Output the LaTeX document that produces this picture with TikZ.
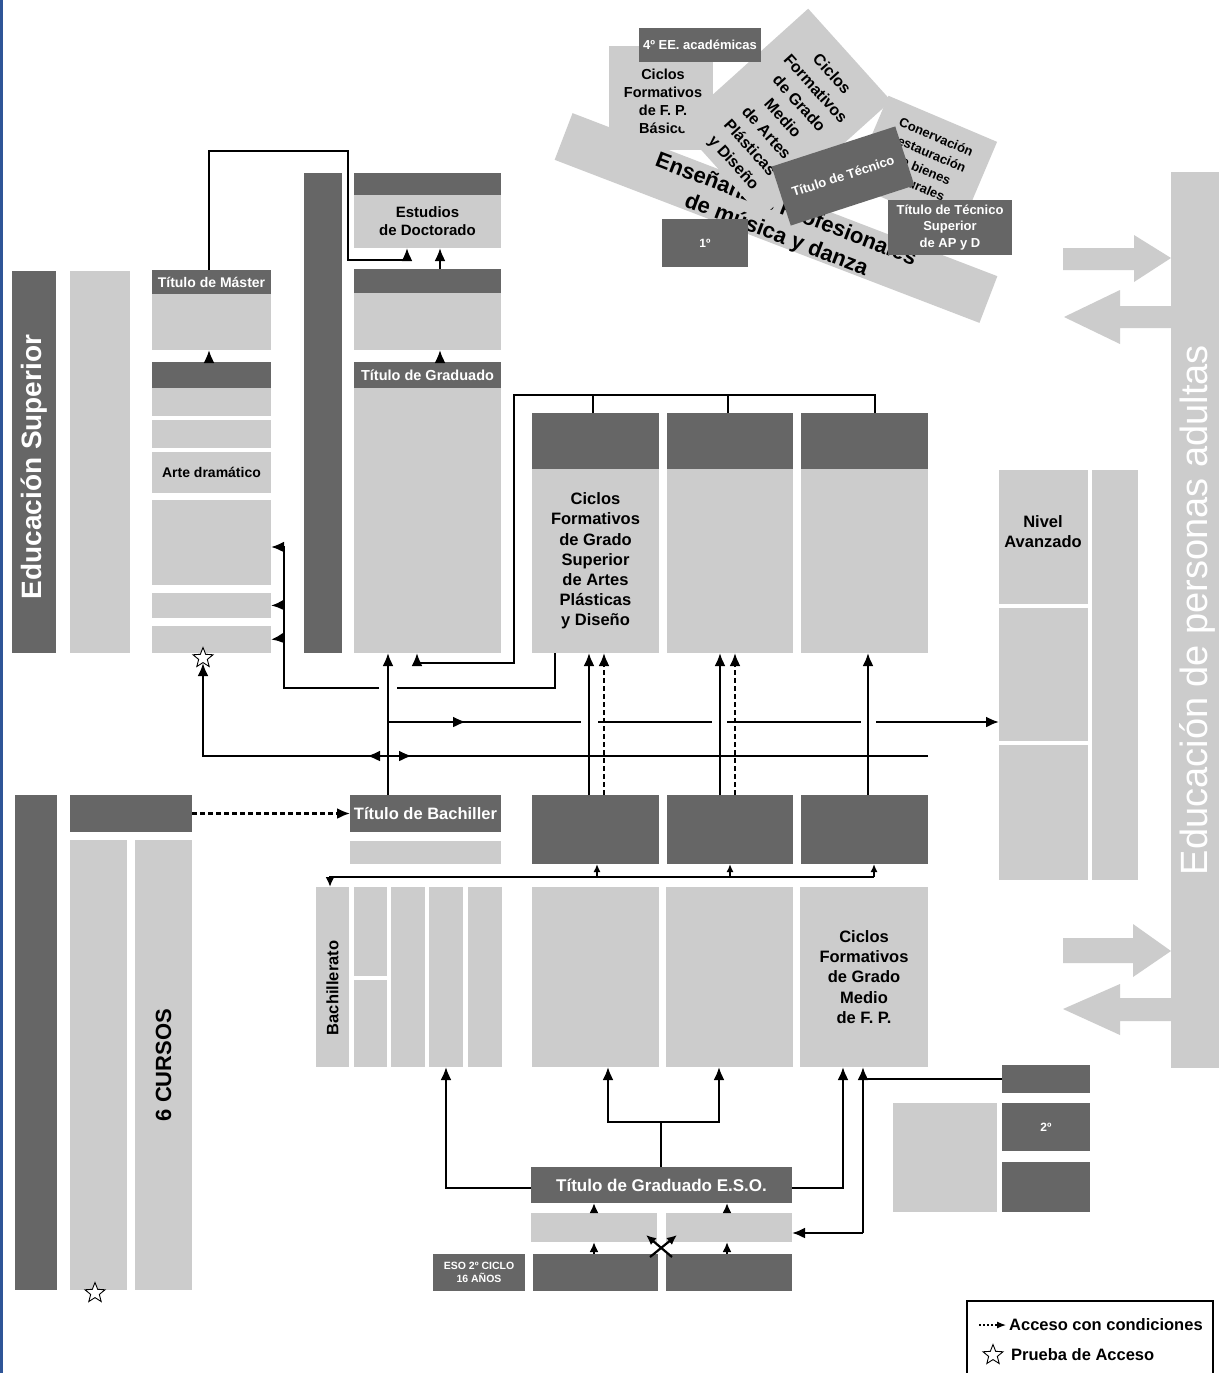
\documentclass[tikz,border=0pt]{standalone}
\usepackage{fontspec}
\setmainfont{Liberation Sans}
\usetikzlibrary{arrows.meta,shapes.geometric}
\definecolor{dk}{HTML}{666666}
\definecolor{lt}{HTML}{CCCCCC}
\definecolor{bord}{HTML}{2F5597}
\newcommand\fs[2]{\fontsize{#1pt}{#2pt}\selectfont}
\newcommand\bx[7]{\node[#1, minimum width={#5pt-#3pt}, minimum height={#6pt-#4pt}] (#2) at (#3,#4) {#7};}
\tikzset{
  box/.style={inner sep=0pt, outer sep=0pt, anchor=north west, align=center, font=\bfseries},
  dkb/.style={box, fill=dk, text=white},
  ltb/.style={box, fill=lt, text=black},
  rbox/.style={inner sep=0pt, outer sep=0pt, anchor=center, align=center, font=\bfseries},
  arr/.style={line width=2.2pt, -{Latex[length=13pt,width=11pt]}},
  sarr/.style={line width=2.2pt, -{Latex[length=10pt,width=9pt]}},
  tarr/.style={line width=2.2pt, -{Latex[length=8pt,width=7pt]}},
  ln/.style={line width=2.2pt},
  dsh/.style={dash pattern=on 5pt off 3pt},
  strn/.style={star, star points=5, star point ratio=2.3, draw=black, fill=white, line width=0.9pt, minimum size=21pt, inner sep=0pt},
  bigarrow/.style={fill=lt},
}
\begin{document}
\begin{tikzpicture}[x=1pt,y=-1pt]
\fill[white] (0,0) rectangle (1219,1373);
\useasboundingbox (0,0) rectangle (1219,1373);
\fill[bord] (0,0) rectangle (3,1373);

% ---------- top cluster ----------
\bx{ltb}{fpb}{609}{46}{713}{150}{}
\node[font=\fs{14.5}{18}\bfseries, align=center] (fpbt) at (663,101) {Ciclos\\Formativos\\de F. P.\\Básico};
\node[rbox, fill=lt, rotate=-21, minimum width=455pt, minimum height=50pt] (band) at (776,218) {};
\node[rotate=-21, font=\fs{22}{27}\bfseries, align=center] (bandt) at (781,223) {Enseñanzas Profesionales\\de música y danza};
\node[rbox, fill=lt, rotate=-48, minimum width=124pt, minimum height=174pt] (cfm) at (785,113) {};
\node[rotate=-48, font=\fs{16}{22}\bfseries, align=center] (cfmt) at (782,119) {Ciclos\\Formativos\\de Grado\\Medio\\de Artes\\Plásticas\\y Diseño};
\bx{dkb, font=\fs{13}{15}\bfseries}{ee4}{639}{28}{761}{62}{4º EE. académicas}
\node[rbox, fill=lt, rotate=-23, minimum width=118pt, minimum height=96pt] (cons) at (924,163) {};
\node[rotate=-23, font=\fs{13}{17.5}\bfseries, align=center] (const) at (926,161) {Conervación\\restauración\\de bienes\\culturales};
\node[rbox, fill=dk, text=white, rotate=18, minimum width=130pt, minimum height=62pt, font=\fs{13}{15}\bfseries] (tec) at (843,176) {Título de Técnico};
\bx{dkb, font=\fs{13}{16.5}\bfseries}{tecs}{888}{200}{1012}{255}{Título de Técnico\\Superior\\de AP y D}
\bx{dkb, font=\fs{12}{14}\bfseries}{uno}{662}{219}{748}{267}{1º}

% ---------- Educacion superior ----------
\bx{dkb}{es}{12}{271}{56}{653}{}
\node[rotate=90, text=white, font=\fs{28}{32}\bfseries] (est) at (34,467) {Educación Superior};
\bx{ltb}{es2}{70}{271}{130}{653}{}
\bx{dkb, font=\fs{14}{16}\bfseries}{ma1}{152}{270}{271}{294}{Título de Máster}
\bx{ltb}{ma2}{152}{294}{271}{350}{}
\bx{dkb}{ma3}{152}{362}{271}{388}{}
\bx{ltb}{ma4}{152}{388}{271}{416}{}
\bx{ltb}{ma5}{152}{420}{271}{448}{}
\bx{ltb, font=\fs{14}{16}\bfseries}{ma6}{152}{452}{271}{493}{Arte dramático}
\bx{ltb}{ma7}{152}{500}{271}{585}{}
\bx{ltb}{ma8}{152}{593}{271}{618}{}
\bx{ltb}{ma9}{152}{626}{271}{653}{}

\bx{dkb}{gv}{304}{173}{342}{653}{}
\bx{dkb}{doc1}{354}{173}{501}{195}{}
\bx{ltb, font=\fs{15}{18}\bfseries}{doc2}{354}{195}{501}{248}{Estudios\\de Doctorado}
\bx{dkb}{gr1}{354}{269}{501}{293}{}
\bx{ltb}{gr2}{354}{293}{501}{350}{}
\bx{dkb, font=\fs{14.5}{17}\bfseries}{gr3}{354}{362}{501}{388}{Título de Graduado}
\bx{ltb}{gr4}{354}{388}{501}{653}{}

% ---------- CF grado superior ----------
\bx{dkb}{cfa1}{532}{413}{659}{469}{}
\bx{dkb}{cfa2}{667}{413}{793}{469}{}
\bx{dkb}{cfa3}{801}{413}{928}{469}{}
\bx{ltb, font=\fs{16.5}{20.2}\bfseries}{cfb1}{532}{469}{659}{653}{Ciclos\\Formativos\\de Grado\\Superior\\de Artes\\Plásticas\\y Diseño}
\bx{ltb}{cfb2}{667}{469}{793}{653}{}
\bx{ltb}{cfb3}{801}{469}{928}{653}{}

% ---------- adults ----------
\bx{ltb}{na1}{999}{470}{1088}{604}{}
\node[font=\fs{16.5}{20}\bfseries, align=center] (na1t) at (1043,532) {Nivel\\Avanzado};
\bx{ltb}{na2}{999}{608}{1088}{741}{}
\bx{ltb}{na3}{999}{745}{1088}{880}{}
\bx{ltb}{na4}{1092}{470}{1138}{880}{}
\bx{ltb}{epa}{1171}{172}{1219}{1068}{}
\node[rotate=90, text=white, font=\fs{38}{44}] (epat) at (1197,610) {Educación de personas adultas};
\fill[bigarrow] (1063,248) -- (1134,248) -- (1134,235) -- (1171,258) -- (1134,282) -- (1134,270) -- (1063,270) -- cycle;
\fill[bigarrow] (1171,306) -- (1120,306) -- (1120,290) -- (1064,317) -- (1120,344) -- (1120,328) -- (1171,328) -- cycle;
\fill[bigarrow] (1063,938) -- (1133,938) -- (1133,924) -- (1171,951) -- (1133,977) -- (1133,963) -- (1063,963) -- cycle;
\fill[bigarrow] (1171,998) -- (1120,998) -- (1120,984) -- (1063,1009) -- (1120,1035) -- (1120,1021) -- (1171,1021) -- cycle;

% ---------- middle ----------
\bx{dkb, font=\fs{16.5}{19}\bfseries}{tb1}{350}{795}{501}{832}{Título de Bachiller}
\bx{ltb}{tb2}{350}{841}{501}{864}{}
\bx{dkb}{md1}{532}{795}{659}{864}{}
\bx{dkb}{md2}{667}{795}{793}{864}{}
\bx{dkb}{md3}{801}{795}{928}{864}{}

\bx{dkb}{bl1}{15}{795}{57}{1290}{}
\bx{dkb}{bl2}{70}{795}{192}{832}{}
\bx{ltb}{bl3}{70}{840}{127}{1290}{}
\bx{ltb}{bl4}{135}{840}{192}{1290}{}
\node[rotate=90, font=\fs{22}{26}\bfseries] (bl4t) at (bl4.center) {6 CURSOS};

\bx{ltb}{ba1}{316}{887}{349}{1067}{}
\node[rotate=90, font=\fs{16.5}{20}\bfseries] (ba1t) at (332.5,988) {Bachillerato};
\bx{ltb}{ba2}{354}{887}{387}{976}{}
\bx{ltb}{ba3}{354}{980}{387}{1067}{}
\bx{ltb}{ba4}{391}{887}{425}{1067}{}
\bx{ltb}{ba5}{429}{887}{463}{1067}{}
\bx{ltb}{ba6}{468}{887}{502}{1067}{}
\bx{ltb}{gm1}{532}{887}{659}{1067}{}
\bx{ltb}{gm2}{666}{887}{793}{1067}{}
\bx{ltb, font=\fs{16.5}{20.2}\bfseries}{gm3}{800}{887}{928}{1067}{Ciclos\\Formativos\\de Grado\\Medio\\de F. P.}

% ---------- ESO ----------
\bx{dkb, font=\fs{17}{19}\bfseries}{teso}{531}{1167}{792}{1203}{Título de Graduado E.S.O.}
\bx{ltb}{el1}{531}{1213}{657}{1242}{}
\bx{ltb}{el2}{666}{1213}{792}{1242}{}
\bx{dkb}{ed1}{533}{1254}{658}{1291}{}
\bx{dkb}{ed2}{666}{1254}{792}{1291}{}
\bx{dkb, font=\fs{10.5}{13}\bfseries}{eso}{433}{1254}{525}{1291}{ESO 2º CICLO\\16 AÑOS}

\bx{dkb}{r1}{1002}{1065}{1090}{1093}{}
\bx{ltb}{r2}{893}{1103}{997}{1212}{}
\bx{dkb, font=\fs{12}{14}\bfseries}{r3}{1002}{1103}{1090}{1151}{2º}
\bx{dkb}{r4}{1002}{1162}{1090}{1212}{}

% ---------- stars ----------
\node[strn] (st1) at (203,658) {};
\node[strn] (st2) at (95,1293) {};

% ---------- connectors ----------
\draw[arr] (ma1.north -| 209,0) -- (209,151) -- (348,151) -- (348,260) -- (407,260) -- (doc2.south -| 407,0);
\draw[arr] (gr1.north -| 440,0) -- (doc2.south -| 440,0);
\draw[arr] (gr3.north -| 440,0) -- (gr2.south -| 440,0);
\draw[arr] (ma3.north -| 209,0) -- (ma2.south -| 209,0);

\draw[ln] (cfa1.north -| 593,0) -- (593,395);
\draw[ln] (cfa2.north -| 728,0) -- (728,395);
\draw[arr] (cfa3.north -| 875,0) -- (875,395) -- (514,395) -- (514,663) -- (417,663) -- (gr4.south -| 417,0);

\draw[ln] (cfb1.south -| 555,0) -- (555,688) -- (397,688);
\draw[arr] (379,688) -- (284,688) -- (284,547) -- (ma7.east |- 0,547);
\draw[arr] (284,605) -- (ma8.east);
\draw[arr] (284,638) -- (ma9.east);

\draw[arr] (tb1.north -| 388,0) -- (gr4.south -| 388,0);

\draw[ln] (388,722) -- (581,722);
\draw[ln] (598,722) -- (712,722);
\draw[ln] (727,722) -- (861,722);
\draw[arr] (876,722) -- (na2.west |- 0,722);
\draw[arr] (388,722) -- (466,722);

\draw[arr] (928,756) -- (203,756) -- (st1.south);
\draw[arr] (388,756) -- (367,756);
\draw[arr] (388,756) -- (412,756);

\draw[arr] (md1.north -| 589,0) -- (cfb1.south -| 589,0);
\draw[arr, dsh] (md1.north -| 604,0) -- (cfb1.south -| 604,0);
\draw[arr] (md2.north -| 720,0) -- (cfb2.south -| 720,0);
\draw[arr, dsh] (md2.north -| 735,0) -- (cfb2.south -| 735,0);
\draw[arr] (md3.north -| 868,0) -- (cfb3.south -| 868,0);

\draw[sarr] (874,877) -- (330,877) -- (ba1.north -| 330,0);
\draw[tarr] (597,877) -- (md1.south -| 597,0);
\draw[tarr] (730,877) -- (md2.south -| 730,0);
\draw[tarr] (874,877) -- (md3.south -| 874,0);

\draw[arr, dsh] (bl2.east) -- (tb1.west);

\draw[ln] (teso.north -| 661,0) -- (661,1122);
\draw[arr] (661,1122) -- (608,1122) -- (gm1.south -| 608,0);
\draw[arr] (661,1122) -- (719,1122) -- (gm2.south -| 719,0);
\draw[arr] (teso.west |- 0,1188) -- (446,1188) -- (ba5.south -| 446,0);
\draw[arr] (teso.east |- 0,1188) -- (843,1188) -- (gm3.south -| 843,0);
\draw[ln] (r1.west) -- (r1.west -| 863,0);
\draw[arr] (863,1233) -- (gm3.south -| 863,0);
\draw[arr] (863,1233) -- (el2.east |- 0,1233);

\draw[sarr] (ed1.north -| 594,0) -- (el1.south -| 594,0);
\draw[sarr] (ed2.north -| 727,0) -- (el2.south -| 727,0);
\draw[sarr] (el1.north -| 594,0) -- (teso.south -| 594,0);
\draw[sarr] (el2.north -| 727,0) -- (teso.south -| 727,0);
\draw[sarr] (672,1257) -- (646,1235);
\draw[sarr] (650,1257) -- (677,1235);

% ---------- legend ----------
\draw[line width=2.5pt] (967,1373) -- (967,1301) -- (1213,1301) -- (1213,1373);
\node[anchor=west, font=\fs{16.5}{20}\bfseries, inner sep=0pt] (lg1) at (1009,1325) {Acceso con condiciones};
\node[anchor=west, font=\fs{16.5}{20}\bfseries, inner sep=0pt] (lg2) at (1011,1355) {Prueba de Acceso};
\coordinate (lga) at (979,1325);
\draw[dash pattern=on 2pt off 2pt, line width=1.2pt, -{Latex[length=9pt,width=7pt]}] (lga) -- ([xshift=-3pt]lg1.west);
\node[strn] (st3) at (993,1355) {};
\end{tikzpicture}
\end{document}
